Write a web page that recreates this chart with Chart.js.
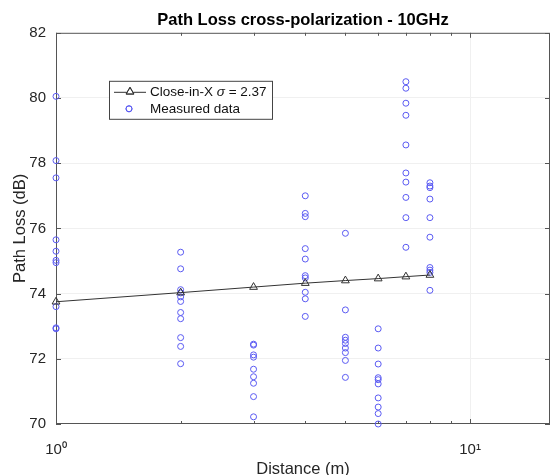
<!DOCTYPE html>
<html>
<head>
<meta charset="utf-8">
<script src="https://cdn.jsdelivr.net/npm/chart.js@4/dist/chart.umd.min.js"></script>
<style>
  html, body { margin: 0; padding: 0; background: #fff; overflow: hidden; }
  #wrap { position: relative; width: 553px; height: 475px; }
</style>
</head>
<body>
<div id="wrap"><canvas id="c" width="553" height="475"></canvas></div>
<script>
// Transmitter-receiver separations (m)
const distances = [1, 2, 3, 4, 5, 6, 7, 8];

// Close-in-X model path loss at each separation (dB)
const closeInX = [73.75, 74.03, 74.2, 74.32, 74.4, 74.46, 74.52, 74.57];

// Measured path loss samples (dB), one list per separation
const measuredAt1m = [80.05, 78.08, 77.55, 75.65, 75.3, 75.02, 74.95, 73.6, 72.95, 72.92];
const measuredAt2m = [75.27, 74.76, 74.12, 74.02, 73.9, 73.76, 73.42, 73.23, 72.65, 72.38, 71.85];
const measuredAt3m = [72.45, 72.42, 72.12, 72.05, 71.68, 71.45, 71.25, 70.84, 70.22];
const measuredAt4m = [77.0, 76.46, 76.36, 75.38, 75.06, 74.55, 74.48, 74.04, 73.84, 73.3];
const measuredAt5m = [75.85, 73.5, 72.66, 72.57, 72.47, 72.33, 72.19, 71.95, 71.43];
const measuredAt6m = [72.92, 72.33, 71.84, 71.42, 71.36, 71.23, 70.8, 70.52, 70.32, 70.0];
const measuredAt7m = [80.5, 80.3, 79.84, 79.47, 78.56, 77.7, 77.42, 76.95, 76.33, 75.42];
const measuredAt8m = [77.4, 77.3, 77.25, 76.9, 76.33, 75.73, 74.8, 74.72, 74.65, 74.1];
const measuredByDistance = [measuredAt1m, measuredAt2m, measuredAt3m, measuredAt4m,
                            measuredAt5m, measuredAt6m, measuredAt7m, measuredAt8m];

// Axis ticks and labels
const yTicks = [70, 72, 74, 76, 78, 80, 82];
const xMajorTicks = [1, 10];
const xMajorLabels = ['10\u2070', '10\u00B9'];
const xMinorTicks = [2, 3, 4, 5, 6, 7, 8, 9];

const modelLabel = 'Close-in-X';
const sigmaText = '2.37';
const measuredLabel = 'Measured data';

const modelPoints = distances.map((d, i) => ({ x: d, y: closeInX[i] }));
const measuredPoints = [];
distances.forEach((d, i) => {
  measuredByDistance[i].forEach(v => measuredPoints.push({ x: d, y: v }));
});

const FONT = 'Liberation Sans, Arial, Helvetica, sans-serif';
const MARKER_BLUE = '#5a5af2';
const LINE_GRAY = '#333333';
const GRID = '#f0f0f0';
const AXIS = '#555555';

// Box around the axes plus MATLAB-style inward tick marks
const axesBox = {
  id: 'axesBox',
  beforeDatasetsDraw(chart) {
    const { ctx, chartArea: a, scales } = chart;
    ctx.save();
    ctx.strokeStyle = AXIS;
    ctx.lineWidth = 1;
    ctx.strokeRect(a.left + 0.5, a.top + 0.5, a.right - a.left - 1, a.bottom - a.top - 1);
    ctx.beginPath();
    yTicks.forEach(v => {
      const y = Math.round(scales.y.getPixelForValue(v)) + 0.5;
      ctx.moveTo(a.left, y); ctx.lineTo(a.left + 5, y);
      ctx.moveTo(a.right, y); ctx.lineTo(a.right - 5, y);
    });
    xMajorTicks.forEach(v => {
      const x = Math.round(scales.x.getPixelForValue(v)) + 0.5;
      ctx.moveTo(x, a.bottom); ctx.lineTo(x, a.bottom - 5);
      ctx.moveTo(x, a.top); ctx.lineTo(x, a.top + 5);
    });
    xMinorTicks.forEach(v => {
      const x = Math.round(scales.x.getPixelForValue(v)) + 0.5;
      ctx.moveTo(x, a.bottom); ctx.lineTo(x, a.bottom - 3);
      ctx.moveTo(x, a.top); ctx.lineTo(x, a.top + 3);
    });
    ctx.stroke();
    ctx.restore();
  }
};

// Boxed legend inside the upper-left of the axes
const boxedLegend = {
  id: 'boxedLegend',
  afterDraw(chart) {
    const { ctx, chartArea: a } = chart;
    const x0 = a.left + 53, y0 = a.top + 48, w = 163, h = 38;
    ctx.save();
    ctx.fillStyle = '#ffffff';
    ctx.fillRect(x0, y0, w, h);
    ctx.strokeStyle = '#444';
    ctx.lineWidth = 1;
    ctx.strokeRect(x0 + 0.5, y0 + 0.5, w, h);

    const row1 = y0 + 11, row2 = y0 + 28;
    ctx.strokeStyle = LINE_GRAY;
    ctx.beginPath();
    ctx.moveTo(x0 + 5, row1 + 0.5);
    ctx.lineTo(x0 + 37, row1 + 0.5);
    ctx.stroke();
    Chart.helpers.drawPoint(ctx, { pointStyle: 'triangle', radius: 4.5, borderWidth: 1 }, x0 + 21, row1);
    ctx.stroke();

    ctx.strokeStyle = MARKER_BLUE;
    Chart.helpers.drawPoint(ctx, { pointStyle: 'circle', radius: 3, borderWidth: 1 }, x0 + 20, row2);
    ctx.stroke();

    ctx.fillStyle = '#111';
    ctx.textBaseline = 'middle';
    ctx.textAlign = 'left';
    let tx = x0 + 41;
    ctx.font = '13.5px ' + FONT;
    const p1 = modelLabel + ' ';
    ctx.fillText(p1, tx, row1);
    tx += ctx.measureText(p1).width;
    ctx.font = 'italic 13.5px ' + FONT;
    ctx.fillText('\u03C3', tx, row1);
    tx += ctx.measureText('\u03C3').width;
    ctx.font = '13.5px ' + FONT;
    ctx.fillText(' = ' + sigmaText, tx, row1);
    ctx.fillText(measuredLabel, x0 + 41, row2);
    ctx.restore();
  }
};

new Chart(document.getElementById('c'), {
  type: 'scatter',
  data: {
    datasets: [
      {
        label: modelLabel,
        data: modelPoints,
        showLine: true,
        clip: false,
        borderColor: LINE_GRAY,
        borderWidth: 1,
        pointStyle: 'triangle',
        pointRadius: 4.5,
        pointBorderColor: LINE_GRAY,
        pointBorderWidth: 1,
        pointBackgroundColor: 'rgba(0,0,0,0)'
      },
      {
        label: measuredLabel,
        data: measuredPoints,
        showLine: false,
        clip: false,
        pointStyle: 'circle',
        pointRadius: 3,
        pointBorderColor: MARKER_BLUE,
        pointBorderWidth: 1,
        pointBackgroundColor: 'rgba(0,0,0,0)'
      }
    ]
  },
  options: {
    responsive: false,
    animation: false,
    devicePixelRatio: 1,
    layout: { autoPadding: false, padding: { left: 0, right: 3, top: 0, bottom: 0 } },
    plugins: {
      legend: { display: false },
      tooltip: { enabled: false },
      title: {
        display: true,
        fullSize: false,
        text: 'Path Loss cross-polarization - 10GHz',
        color: '#000',
        font: { family: FONT, size: 16.5, weight: 'bold', lineHeight: 1.2 },
        padding: { top: 11, bottom: 2 }
      }
    },
    scales: {
      x: {
        type: 'logarithmic',
        position: 'bottom',
        min: 1,
        max: 15.6,
        border: { display: false },
        grid: {
          drawTicks: false,
          lineWidth: 1,
          color: c => (c.tick && Math.abs(c.tick.value - 10) < 1e-9) ? GRID : 'rgba(0,0,0,0)'
        },
        ticks: {
          autoSkip: false,
          maxRotation: 0,
          minRotation: 0,
          padding: 17,
          color: '#262626',
          font: { family: FONT, size: 15 },
          callback: v => {
            const i = xMajorTicks.findIndex(t => Math.abs(t - v) < 1e-9);
            return i >= 0 ? xMajorLabels[i] : '';
          }
        },
        title: {
          display: true,
          text: 'Distance (m)',
          color: '#262626',
          font: { family: FONT, size: 16.5, lineHeight: 1 },
          padding: { top: 0, bottom: -3 }
        },
        afterFit: s => { s.height = 51; s.paddingLeft = 0; s.paddingRight = 0; }
      },
      y: {
        type: 'linear',
        min: 70,
        max: 82,
        border: { display: false },
        grid: {
          drawTicks: false,
          lineWidth: 1,
          color: c => (c.tick && (c.tick.value === 70 || c.tick.value === 82)) ? 'rgba(0,0,0,0)' : GRID
        },
        afterBuildTicks: s => { s.ticks = yTicks.map(v => ({ value: v })); },
        ticks: {
          padding: 10,
          color: '#262626',
          font: { family: FONT, size: 15 }
        },
        title: {
          display: true,
          text: 'Path Loss (dB)',
          color: '#262626',
          font: { family: FONT, size: 16.5, lineHeight: 1.2 },
          padding: { top: 11, bottom: 0 }
        },
        afterFit: s => { s.width = 56; s.paddingTop = 0; s.paddingBottom = 0; }
      }
    }
  },
  plugins: [axesBox, boxedLegend]
});
</script>
</body>
</html>
